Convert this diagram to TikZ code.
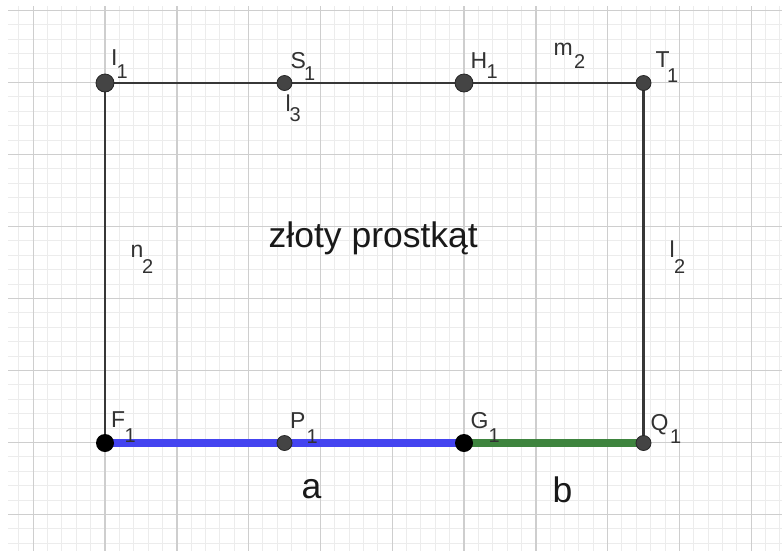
\documentclass[tikz,border=0pt]{standalone}
\usepackage{fontspec}
\setmainfont{Liberation Sans}
\definecolor{gmajor}{RGB}{206,206,206}
\definecolor{gminor}{RGB}{236,236,236}
\definecolor{edgec}{RGB}{55,55,55}
\definecolor{ptdark}{RGB}{68,68,68}
\definecolor{segblue}{RGB}{68,68,240}
\definecolor{seggreen}{RGB}{62,132,62}
\definecolor{labc}{RGB}{50,50,50}
\pgfdeclarelayer{gridlayer}
\pgfdeclarelayer{linelayer}
\pgfsetlayers{gridlayer,linelayer,main}
\begin{document}
\begin{tikzpicture}[x=1pt,y=-1pt,
  minorline/.style={draw=gminor, line width=1pt},
  majorline/.style={draw=gmajor, line width=1.4pt},
  edgeline/.style={draw=edgec, line width=2.3pt},
  bluebar/.style={draw=segblue, line width=8pt},
  greenbar/.style={draw=seggreen, line width=8pt},
  bigpt/.style={circle, inner sep=0pt, minimum size=18pt, fill=ptdark, draw=black!85, line width=0.8pt},
  blackpt/.style={circle, inner sep=0pt, minimum size=18pt, fill=black},
  smallpt/.style={circle, inner sep=0pt, minimum size=15pt, fill=ptdark, draw=black!85, line width=0.8pt},
  mainlab/.style={anchor=base west, inner sep=0pt, text=labc, font=\fontsize{23}{23}\selectfont},
  sublab/.style={anchor=base west, inner sep=0pt, text=labc, font=\fontsize{20}{20}\selectfont},
  bigtext/.style={anchor=base west, inner sep=0pt, text=black!90, font=\fontsize{35.5}{36}\selectfont}]
\useasboundingbox (0,0) rectangle (782,550);
% grid
\begin{pgfonlayer}{gridlayer}
\fill[white] (0,0) rectangle (782,550);
\begin{scope}
\clip (8,6) rectangle (782,550);
\foreach \k in {-2,...,52} \draw[minorline] ({33.2+14.36*\k},0) -- ++(0,560);
\foreach \k in {-1,...,38} \draw[minorline] (0,{10.4+14.4*\k}) -- ++(790,0);
\foreach \k in {0,...,10} \draw[majorline] ({33.2+71.8*\k},0) -- ++(0,560);
\foreach \k in {0,...,7} \draw[majorline] (0,{10.4+72*\k}) -- ++(790,0);
\end{scope}
\end{pgfonlayer}
% points
\node[bigpt] (I1) at (105,83) {};
\node[smallpt] (S1) at (284.5,83) {};
\node[bigpt] (H1) at (464,83) {};
\node[smallpt] (T1) at (643.5,83) {};
\node[blackpt] (F1) at (105,443) {};
\node[smallpt] (P1) at (284.5,443) {};
\node[blackpt] (G1) at (464,443) {};
\node[smallpt] (Q1) at (643.5,443) {};
% lines
\begin{pgfonlayer}{linelayer}
\draw[edgeline] (I1.center) -- (T1.center);
\draw[edgeline] (T1.center) -- (Q1.center);
\draw[edgeline] (I1.center) -- (F1.center);
\draw[bluebar] (F1.center) -- (G1.center);
\draw[greenbar] (G1.center) -- (Q1.center);
\end{pgfonlayer}
% labels
\node[mainlab] (I1m) at (111,65) {I};
\node[sublab] (I1s) at (116.5,78) {1};
\node[mainlab] (S1m) at (290.5,68) {S};
\node[sublab] (S1s) at (304,80) {1};
\node[mainlab] (l3m) at (285.5,111) {l};
\node[sublab] (l3s) at (289.5,121) {3};
\node[mainlab] (H1m) at (470.5,68) {H};
\node[sublab] (H1s) at (486.5,78) {1};
\node[mainlab] (m2m) at (553.5,55) {m};
\node[sublab] (m2s) at (574,68) {2};
\node[mainlab] (T1m) at (655.5,67) {T};
\node[sublab] (T1s) at (667,82) {1};
\node[mainlab] (n2m) at (130.5,257) {n};
\node[sublab] (n2s) at (142,273) {2};
\node[mainlab] (l2m) at (669.5,257) {l};
\node[sublab] (l2s) at (674,273) {2};
\node[mainlab] (F1m) at (111,427) {F};
\node[sublab] (F1s) at (124.5,442) {1};
\node[mainlab] (P1m) at (290,428) {P};
\node[sublab] (P1s) at (306.5,443) {1};
\node[mainlab] (G1m) at (470.5,428) {G};
\node[sublab] (G1s) at (488.5,442) {1};
\node[mainlab] (Q1m) at (650.5,430) {Q};
\node[sublab] (Q1s) at (670,443) {1};
\node[bigtext] (title) at (268.5,247) {złoty prostkąt};
\node[bigtext] (la) at (301.5,498) {a};
\node[bigtext] (lb) at (552.5,502) {b};
\end{tikzpicture}
\end{document}
